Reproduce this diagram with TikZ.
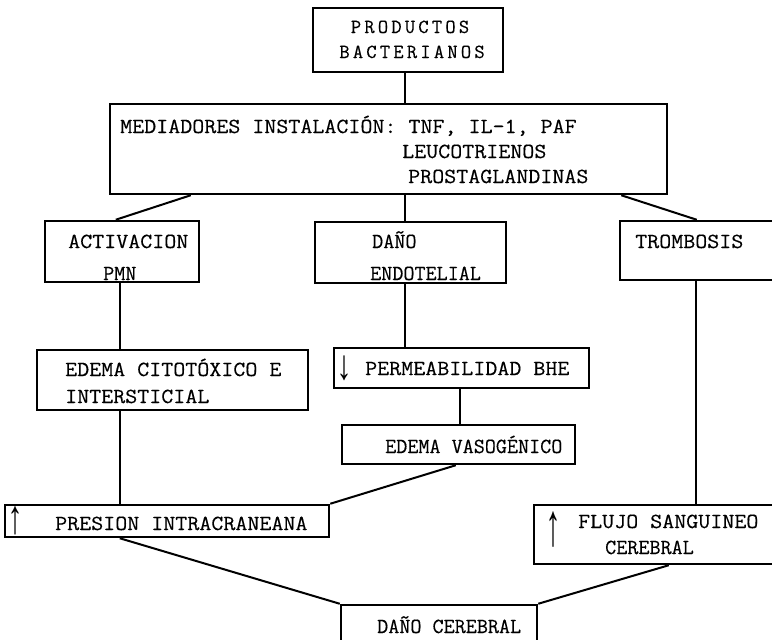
\documentclass[tikz,border=0pt]{standalone}
\usepackage{fontspec}
\newfontfamily\mono[FakeStretch=1.085,FakeBold=0.35]{Latin Modern Mono}
\newfontfamily\monon[FakeBold=0.35]{Latin Modern Mono}
\newfontfamily\monols[LetterSpace=16,FakeBold=0.35]{Latin Modern Mono}
\newfontfamily\arrfont{Liberation Mono}
\newcommand\tallarrow[2]{\scalebox{1}[#1]{#2}}
\usetikzlibrary{fit}

\begin{document}
\begin{tikzpicture}[x=1pt, y=-1pt,
  blk/.style={draw, line width=2.5pt, inner sep=0pt},
  txt/.style={anchor=base west, inner sep=0pt, font=\mono\fontsize{21.5}{24}\selectfont},
  ntxt/.style={txt, font=\monon\fontsize{21.5}{24}\selectfont},
  ltxt/.style={anchor=base, inner sep=0pt, font=\monols\fontsize{20}{22}\selectfont},
  arr/.style={anchor=center, inner sep=0pt, font=\arrfont\fontsize{30}{30}\selectfont},
  lnk/.style={line width=2pt}
]
  \clip (0,0) rectangle (772,640);

  % boxes
  \node[blk, fit={(313,8) (503,72)}]    (prod)  {};
  \node[blk, fit={(110,104) (667,194)}] (med)   {};
  \node[blk, fit={(45,221) (199,282)}]  (act)   {};
  \node[blk, fit={(315,222) (506,283)}] (dano)  {};
  \node[blk, fit={(620,221) (790,280)}] (trom)  {};
  \node[blk, fit={(37,350) (308,410)}]  (edcit) {};
  \node[blk, fit={(334,348) (589,388)}] (perm)  {};
  \node[blk, fit={(342,425) (575,464)}] (edvas) {};
  \node[blk, fit={(5,505) (329,537)}]   (pic)   {};
  \node[blk, fit={(534,505) (790,564)}] (flujo) {};
  \node[blk, fit={(341,605) (537,660)}] (dcer)  {};

  % texts
  \node[ltxt] (tprod1) at (410,33) {PRODUCTOS};
  \node[ltxt] (tprod2) at (412,58) {BACTERIANOS};
  \node[txt] (tmed1) at (120,133) {MEDIADORES INSTALACIÓN: TNF, IL-1, PAF};
  \node[txt] (tmed2) at (402,158) {LEUCOTRIENOS};
  \node[txt] (tmed3) at (408,183) {PROSTAGLANDINAS};
  \node[txt]  (tact1) at (68,248)  {ACTIVACION};
  \node[ntxt] (tact2) at (103,280) {PMN};
  \node[ntxt] (tdan1) at (372,248) {DAÑO};
  \node[ntxt] (tdan2) at (370,280) {ENDOTELIAL};
  \node[txt]  (ttrom) at (635,248) {TROMBOSIS};
  \node[txt]  (tcit1) at (65,376)  {EDEMA CITOTÓXICO E};
  \node[txt]  (tcit2) at (65,403)  {INTERSTICIAL};
  \node[arr]  (aperm) at (344,368) {\tallarrow{1.4}{↓}};
  \node[txt]  (tperm) at (365,375) {PERMEABILIDAD BHE};
  \node[ntxt] (tvas)  at (385,453) {EDEMA VASOGÉNICO};
  \node[arr]  (apic)  at (16,521)  {\tallarrow{1.6}{↑}};
  \node[txt]  (tpic)  at (55,530)  {PRESION INTRACRANEANA};
  \node[arr]  (aflu)  at (553,530) {\tallarrow{2}{↑}};
  \node[txt]  (tflu1) at (578,528) {FLUJO SANGUINEO};
  \node[ntxt] (tflu2) at (605,554) {CEREBRAL};
  \node[ntxt] (tcer)  at (377,633) {DAÑO CEREBRAL};

  % connectors
  \draw[lnk] ([xshift=-3pt]prod.south) -- ([xshift=-3pt]prod.south |- med.north);
  \draw[lnk] ([xshift=82pt]med.south west) -- ([xshift=72pt]act.north west);
  \draw[lnk] ([xshift=-5.5pt]dano.north |- med.south) -- ([xshift=-5.5pt]dano.north);
  \draw[lnk] ([xshift=-47pt]med.south east) -- ([xshift=78pt]trom.north west);
  \draw[lnk] ([xshift=-2pt]act.south) -- ([xshift=-2pt]act.south |- edcit.north);
  \draw[lnk] ([xshift=-5.5pt]dano.south) -- ([xshift=-5.5pt]dano.south |- perm.north);
  \draw[lnk] ([xshift=-2pt]perm.south) -- ([xshift=-2pt]perm.south |- edvas.north);
  \draw[lnk] ([xshift=77pt]trom.south west) -- ([xshift=77pt]trom.south west |- flujo.north);
  \draw[lnk] ([xshift=84pt]edcit.south west) -- ([xshift=84pt]edcit.south west |- pic.north);
  \draw[lnk] ([xshift=115pt]edvas.south west) -- (pic.north east);
  \draw[lnk] ([xshift=116pt]pic.south west) -- (dcer.north west);
  \draw[lnk] ([xshift=136pt]flujo.south west) -- (dcer.north east);
\end{tikzpicture}
\end{document}
